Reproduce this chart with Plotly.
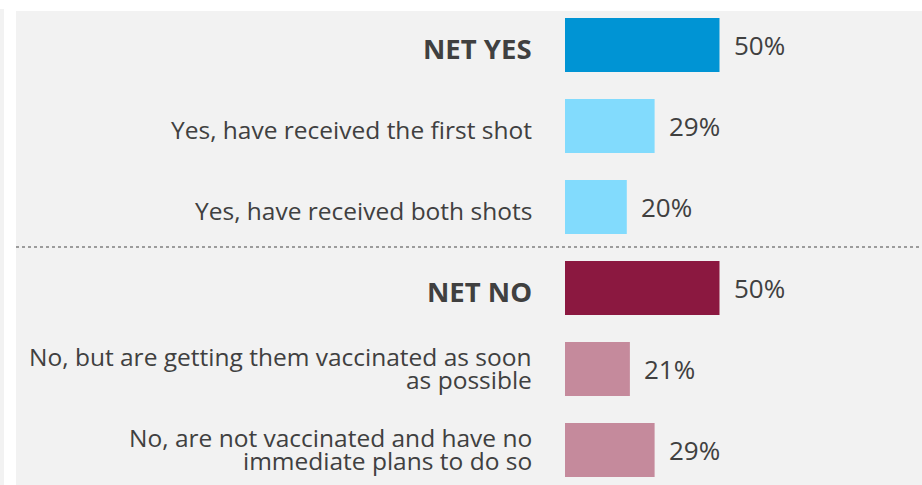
import plotly.graph_objects as go

# Survey responses, top to bottom ("|" marks a line break in the label)
categories = [
    "NET YES",
    "Yes, have received the first shot",
    "Yes, have received both shots",
    "NET NO",
    "No, but are getting them vaccinated as soon|as possible",
    "No, are not vaccinated and have no|immediate plans to do so",
]
is_net = [True, False, False, True, False, False]
values = [50, 29, 20, 50, 21, 29]
value_labels = ["50%", "29%", "20%", "50%", "21%", "29%"]
colors = ["#0094d4", "#82dbfd", "#82dbfd", "#8b1840", "#c58a9c", "#c58a9c"]

TEXT = "#404040"
PANEL = "#f2f2f2"
FONT = "Open Sans"

W, H = 922, 485
bar_left_px = 565
px_per_pct = 3.09
row_px = 81
first_row_center = 45
line_gap = 23

y_pos = list(range(len(categories)))

fig = go.Figure(
    go.Bar(
        x=values,
        y=y_pos,
        orientation="h",
        marker=dict(color=colors, line=dict(width=0)),
        width=54 / row_px,
        hoverinfo="skip",
    )
)

# category labels, right-aligned to the left of the bars; wrapped labels
# are set line by line for a tighter leading
for i, (lab, net) in enumerate(zip(categories, is_net)):
    lines = lab.split("|")
    if len(lines) == 1:
        shifts = [-3]
    else:
        shifts = [12.5, 12.5 - line_gap]
    for line, ys in zip(lines, shifts):
        fig.add_annotation(
            x=0, y=i, xref="x", yref="y",
            text=f"<b>{line}</b>" if net else line,
            showarrow=False, xanchor="right", yanchor="middle", align="right",
            xshift=-31, yshift=ys,
            font=dict(family=FONT, size=27.5 if net else 24.5, color=TEXT),
        )

# value labels just past the bar ends
for i, (v, t) in enumerate(zip(values, value_labels)):
    fig.add_annotation(
        x=v, y=i, xref="x", yref="y", text=t, showarrow=False,
        xanchor="left", yanchor="middle", xshift=12,
        font=dict(family=FONT, size=26, color=TEXT),
    )

# grey panel, left strip and the dotted divider between the two groups
fig.add_shape(type="rect", xref="paper", yref="paper",
              x0=16 / W, x1=1, y0=0, y1=1 - 11 / H,
              fillcolor=PANEL, line=dict(width=0), layer="below")
fig.add_shape(type="rect", xref="paper", yref="paper",
              x0=0, x1=4 / W, y0=0, y1=1 - 9 / H,
              fillcolor=PANEL, line=dict(width=0), layer="below")
fig.add_shape(type="line", xref="paper", yref="paper",
              x0=16 / W, x1=1, y0=1 - 247 / H, y1=1 - 247 / H,
              line=dict(color="#808080", width=1.5, dash="dot"))

plot_w = W - bar_left_px
y_top = -first_row_center / row_px
y_bot = (H - first_row_center) / row_px

fig.update_layout(
    width=W, height=H,
    margin=dict(l=0, r=0, t=0, b=0),
    paper_bgcolor="white",
    plot_bgcolor="rgba(0,0,0,0)",
    showlegend=False,
    xaxis=dict(domain=[bar_left_px / W, 1], range=[0, plot_w / px_per_pct],
               visible=False, fixedrange=True),
    yaxis=dict(range=[y_bot, y_top], visible=False, fixedrange=True),
)

fig.write_html("out.html")
